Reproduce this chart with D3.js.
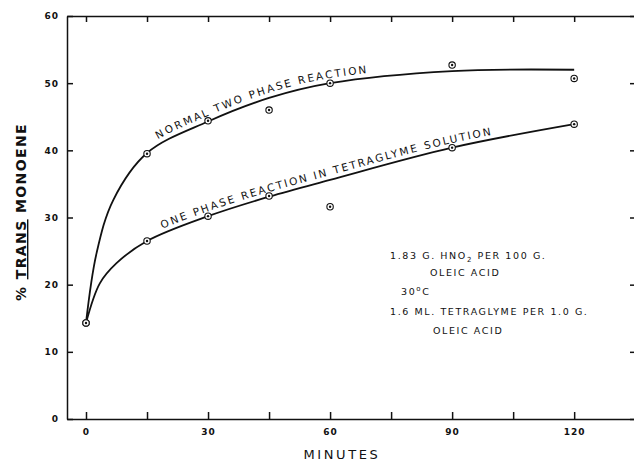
<!DOCTYPE html>
<html>
<head>
<meta charset="utf-8">
<script src="https://cdn.jsdelivr.net/npm/d3@7"></script>
<style>
  body { margin: 0; background: #fff; }
  svg { display: block; }
  .axis path, .axis line { stroke: #111; stroke-width: 1.5; }
  .axis text { font-family: "DejaVu Sans", sans-serif; font-weight: bold; font-size: 9px; fill: #111; letter-spacing: 1px; }
  .note { font-family: "DejaVu Sans", sans-serif; font-size: 9.5px; fill: #111; letter-spacing: 1.6px; }
  .curveLabel { font-family: "DejaVu Sans", sans-serif; font-size: 10.5px; fill: #111; }
</style>
</head>
<body>
<div id="chart"></div>
<script>
// measured points (minutes, % trans monoene)
var minutes = [0, 15, 30, 45, 60, 90, 120];
var twoPhase = [14.3, 39.5, 44.4, 46.0, 50.0, 52.7, 50.7];
var onePhase = [14.3, 26.5, 30.2, 33.2, 31.6, 40.4, 43.9];

// hand drawn smooth curves
var twoPhaseCurveT = [0, 2.6, 6.7, 15, 30, 45, 60, 90, 120];
var twoPhaseCurveY = [14.3, 24.7, 32.6, 39.6, 44.3, 47.8, 50.0, 51.8, 52.0];
var onePhaseCurveT = [0, 3.4, 7.5, 15, 30, 45, 60, 90, 120];
var onePhaseCurveY = [14.3, 20.2, 23.2, 26.5, 30.2, 33.1, 35.6, 40.4, 43.9];

var xTicks = [0, 15, 30, 45, 60, 75, 90, 105, 120];
var xLabels = [0, 30, 60, 90, 120];
var yTicks = [0, 10, 20, 30, 40, 50, 60];

var svgWidth = 634;
var svgHeight = 461;
var plot = {left: 67, right: 636, top: 16, bottom: 419};

var svg = d3.select("#chart").append("svg").attr("width", svgWidth).attr("height", svgHeight);

var x = d3.scaleLinear().domain([-4.67, 135.2]).range([plot.left, plot.right]);
var y = d3.scaleLinear().domain([0, 60]).range([plot.bottom, plot.top]);

// axes, ticks all point inward
svg.append("g").attr("class", "axis")
  .attr("transform", `translate(0, ${plot.bottom})`)
  .call(d3.axisBottom(x).tickValues(xTicks).tickSize(-7).tickSizeOuter(0).tickPadding(10)
    .tickFormat(d => xLabels.indexOf(d) >= 0 ? d : ""));
svg.append("g").attr("class", "axis")
  .attr("transform", `translate(0, ${plot.top})`)
  .call(d3.axisTop(x).tickValues(xTicks).tickSize(-6).tickSizeOuter(0).tickFormat(""));
svg.append("g").attr("class", "axis")
  .attr("transform", `translate(${plot.left}, 0)`)
  .call(d3.axisLeft(y).tickValues(yTicks).tickSize(-6).tickSizeOuter(0).tickPadding(8));
svg.append("g").attr("class", "axis")
  .attr("transform", `translate(${plot.right}, 0)`)
  .call(d3.axisRight(y).tickValues(yTicks).tickSize(-6).tickSizeOuter(0).tickFormat(""));

// axis titles
svg.append("text")
  .attr("x", 342).attr("y", 459)
  .attr("text-anchor", "middle")
  .style("font-family", "DejaVu Sans, sans-serif").style("font-size", "13px")
  .style("letter-spacing", "2.6px").style("fill", "#111")
  .text("MINUTES");

var yTitle = svg.append("text")
  .attr("transform", "translate(26, 212) rotate(-90)")
  .attr("text-anchor", "middle")
  .style("font-family", "DejaVu Sans, sans-serif").style("font-size", "14px")
  .style("font-weight", "bold").style("letter-spacing", "1.4px").style("fill", "#111");
yTitle.append("tspan").text("% ");
yTitle.append("tspan").style("text-decoration", "underline").text("TRANS");
yTitle.append("tspan").text(" MONOENE");

// curves
var line = d3.line()
  .x(d => x(d[0]))
  .y(d => y(d[1]))
  .curve(d3.curveCatmullRom.alpha(0.5));

var curves = [
  {id: "twoCurve", t: twoPhaseCurveT, v: twoPhaseCurveY, label: "NORMAL TWO PHASE REACTION", x0: 160, x1: 367, dy: -5},
  {id: "oneCurve", t: onePhaseCurveT, v: onePhaseCurveY, label: "ONE PHASE REACTION IN TETRAGLYME SOLUTION", x0: 164, x1: 492, dy: -4.5}
];

curves.forEach(function(c) {
  var path = svg.append("path")
    .attr("id", c.id)
    .attr("d", line(c.t.map((t, i) => [t, c.v[i]])))
    .attr("fill", "none")
    .attr("stroke", "#111")
    .attr("stroke-width", 1.8);

  // find where on the path the label starts and ends
  var node = path.node();
  var total = node.getTotalLength();
  function lengthAtX(px) {
    for (var l = 0; l <= total; l += 0.5) {
      if (node.getPointAtLength(l).x >= px) return l;
    }
    return total;
  }
  var l0 = lengthAtX(c.x0);
  var l1 = lengthAtX(c.x1);

  var txt = svg.append("text").attr("class", "curveLabel");
  var tp = txt.append("textPath")
    .attr("href", "#" + c.id)
    .attr("startOffset", l0);
  var ts = tp.append("tspan").attr("dy", c.dy).text(c.label);
  var natural = ts.node().getComputedTextLength();
  var spacing = (l1 - l0 - natural) / (c.label.length - 1);
  txt.style("letter-spacing", spacing + "px");
});

// data markers: circle with a dot
function drawMarkers(values) {
  var g = svg.append("g");
  var pts = g.selectAll("g").data(minutes.map((t, i) => [t, values[i]])).enter().append("g")
    .attr("transform", d => `translate(${x(d[0])}, ${y(d[1])})`);
  pts.append("circle").attr("r", 3.2).attr("fill", "#fff").attr("stroke", "#111").attr("stroke-width", 1.1);
  pts.append("circle").attr("r", 1.2).attr("fill", "#111");
}
drawMarkers(twoPhase);
drawMarkers(onePhase);

// conditions note
var note = svg.append("g").attr("class", "note");
var l1 = note.append("text").attr("x", 390).attr("y", 258.5);
l1.append("tspan").text("1.83 G. HNO");
l1.append("tspan").attr("dy", 3).style("font-size", "7px").text("2");
l1.append("tspan").attr("dy", -3).text(" PER 100 G.");
note.append("text").attr("x", 430).attr("y", 275.5).text("OLEIC ACID");
var l3 = note.append("text").attr("x", 401).attr("y", 295);
l3.append("tspan").text("30");
l3.append("tspan").attr("dy", -4).style("font-size", "7px").text("o");
l3.append("tspan").attr("dy", 4).text("C");
note.append("text").attr("x", 390).attr("y", 314.5).text("1.6 ML. TETRAGLYME PER 1.0 G.");
note.append("text").attr("x", 433).attr("y", 333.5).text("OLEIC ACID");
</script>
</body>
</html>
